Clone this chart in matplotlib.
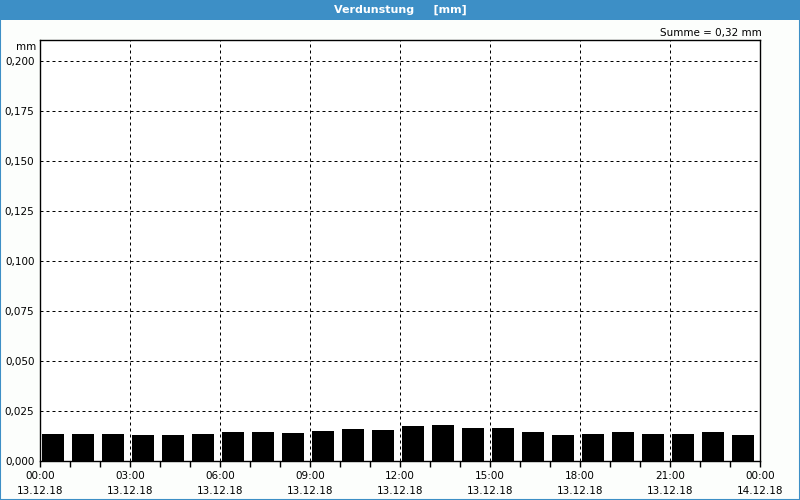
import matplotlib.pyplot as plt
import numpy as np
from matplotlib.patches import Rectangle

# hourly evaporation values (mm), 13.12.18 00:00 - 14.12.18 00:00
hours = list(range(24))
verdunstung = [0.0135, 0.0135, 0.0135, 0.013, 0.013, 0.0135,
               0.0145, 0.0145, 0.014, 0.015, 0.016, 0.0155,
               0.0175, 0.018, 0.0165, 0.0165, 0.0145, 0.013,
               0.0135, 0.0145, 0.0135, 0.0135, 0.0145, 0.013]
x_ticks = [0, 3, 6, 9, 12, 15, 18, 21, 24]
x_labels = ['00:00\n13.12.18', '03:00\n13.12.18', '06:00\n13.12.18',
            '09:00\n13.12.18', '12:00\n13.12.18', '15:00\n13.12.18',
            '18:00\n13.12.18', '21:00\n13.12.18', '00:00\n14.12.18']
y_ticks = [0.0, 0.025, 0.05, 0.075, 0.1, 0.125, 0.15, 0.175, 0.2]
y_labels = ['0,000', '0,025', '0,050', '0,075', '0,100', '0,125',
            '0,150', '0,175', '0,200']

blue = '#3d8fc6'
plt.rcParams['font.family'] = ['DejaVu Sans']

fig = plt.figure(figsize=(8, 5), dpi=100)
fig.patch.set_facecolor('#fcfefc')

# title bar and window frame
fig.patches.append(Rectangle((0, 1 - 20 / 500), 1, 20 / 500, transform=fig.transFigure,
                             facecolor=blue, edgecolor='none', zorder=0))
fig.patches.append(Rectangle((0.0006, 0.001), 0.9988, 0.99, transform=fig.transFigure,
                             facecolor='none', edgecolor=blue, linewidth=1.5, zorder=0))
fig.text(0.5, 1 - 10 / 500, 'Verdunstung     [mm]', color='white', fontsize=8,
         fontweight='bold', ha='center', va='center')

ax = fig.add_axes([40 / 800, 1 - 461 / 500, 720 / 800, 421 / 500])
ax.set_facecolor('white')

ax.bar([h + 0.07 for h in hours], verdunstung, width=0.73, align='edge',
       color='black', zorder=3)

ax.set_xlim(0, 24)
ax.set_ylim(0, 421 / 2000)
ax.set_xticks(x_ticks)
ax.set_xticklabels(x_labels, fontsize=7.5, linespacing=1.7)
ax.set_xticks(hours, minor=True)
ax.set_yticks(y_ticks)
ax.set_yticklabels(y_labels, fontsize=7.5)

ax.tick_params(axis='x', which='both', direction='out', length=4, width=1, pad=3)
ax.tick_params(axis='y', length=0, pad=4)

ax.grid(True, which='major', color='black', linestyle=(0, (3, 3)), linewidth=0.72, zorder=1)
for s in ax.spines.values():
    s.set_color('black')
    s.set_linewidth(1)

fig.text(36 / 800, 1 - 47 / 500, 'mm', fontsize=7.5, ha='right', va='center')
fig.text(762 / 800, 1 - 33 / 500, 'Summe = 0,32 mm', fontsize=7.5, ha='right', va='center')

fig.savefig('out.png', dpi=100, facecolor=fig.get_facecolor())
